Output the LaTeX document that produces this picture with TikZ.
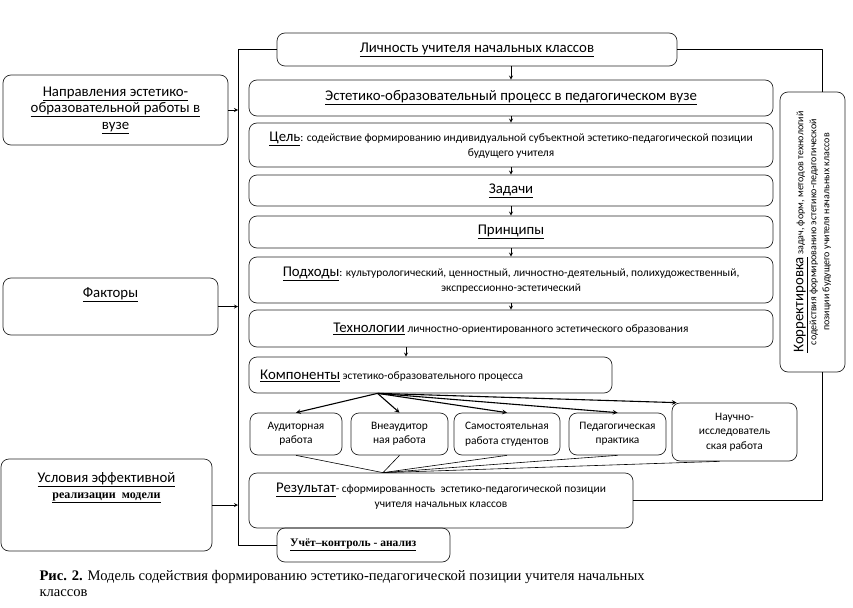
\documentclass[tikz,border=0pt]{standalone}
\usepackage{fontspec}
\setmainfont{Carlito}
\newfontfamily\capfont{Liberation Serif}
\newcommand{\hd}[1]{{\fontsize{14.8}{16}\selectfont\underline{#1}}}
\begin{document}
\begin{tikzpicture}[x=1pt,y=-1pt,line join=round,>=stealth,
  box/.style={draw=black!85,line width=0.7pt,rounded corners=8pt,align=center,inner sep=2pt},
  big/.style={font=\fontsize{14.8}{16.5}\selectfont},
  small/.style={font=\fontsize{11.4}{14.5}\selectfont}]
\useasboundingbox (0,0) rectangle (853,607);
% main column
\node[box,big,minimum width=400,minimum height=33] (lich) at (477,49.5) {\underline{Личность учителя начальных классов}};
\node[box,big,minimum width=524,minimum height=36] (proc) at (511,98) {\underline{Эстетико-образовательный процесс в педагогическом вузе}};
\node[box,small,minimum width=524,minimum height=44] (cel) at (511,145) {\hd{Цель}: содействие формированию индивидуальной субъектной эстетико-педагогической позиции\\будущего учителя};
\node[box,big,minimum width=524,minimum height=31] (zad) at (511,190.5) {\underline{Задачи}};
\node[box,big,minimum width=524,minimum height=32] (princ) at (511,232) {\underline{Принципы}};
\node[box,small,minimum width=524,minimum height=46] (podh) at (511,280) {\hd{Подходы}: культурологический, ценностный, личностно-деятельный, полихудожественный,\\экспрессионно-эстетический};
\node[box,small,minimum width=524,minimum height=37] (tech) at (511,328.5) {\hd{Технологии} личностно-ориентированного эстетического образования};
\node[box,minimum width=363,minimum height=36,
  label={[small,anchor=west,xshift=8pt,yshift=-1pt]west:{\hd{Компоненты} эстетико-образовательного процесса}}] (komp) at (430.5,375) {};
% components
\node[box,small,minimum width=92,minimum height=42] (aud) at (296,434) {Аудиторная\\работа};
\node[box,small,minimum width=97,minimum height=42] (vne) at (399.5,434) {Внеаудитор\\ная работа};
\node[box,small,minimum width=106,minimum height=42] (sam) at (507,434) {Самостоятельная\\работа студентов};
\node[box,small,minimum width=97,minimum height=42] (ped) at (617.5,434) {Педагогическая\\практика};
\node[box,small,minimum width=125,minimum height=58] (nauch) at (734.5,432) {Научно-\\исследователь\\ская работа};
\node[box,minimum width=384,minimum height=55,
  label={[small,align=center,anchor=north,yshift=-7pt]north:{\hd{Результат}- сформированность \ эстетико-педагогической позиции\\учителя начальных классов}}] (rez) at (441,500.5) {};
\node[box,minimum width=173,minimum height=34,
  label={[anchor=west,xshift=10pt,font=\capfont\bfseries\fontsize{11.5}{14}\selectfont]west:{\underline{Учёт–контроль - анализ}}}] (uchet) at (363.5,545) {};
% side boxes
\node[box,minimum width=65,minimum height=280] (korr) at (812.5,232) {};
\node[small,align=center,rotate=90,font=\fontsize{10}{13}\selectfont] (korrtext) at (korr.center) {\hd{Корректировка} задач, форм, методов технологий\\содействия формированию эстетико-педагогической\\позиции будущего учителя начальных классов};
\node[box,big,minimum width=225,minimum height=70] (napr) at (115.5,110) {\underline{Направления эстетико-}\\\underline{образовательной работы в}\\\underline{вузе}};
\node[box,minimum width=215,minimum height=57,
  label={[big,anchor=north,yshift=-6pt]north:{\underline{Факторы}}}] (fakt) at (110.5,306.5) {};
\node[box,minimum width=211,minimum height=92,
  label={[big,align=center,anchor=north,yshift=-10pt]north:{\underline{Условия эффективной}\\{\capfont\bfseries\fontsize{12}{14}\selectfont\underline{реализации \ модели}}}}] (usl) at (106.5,505) {};
% frame
\coordinate (ftop) at (238,49.5);
\draw[line width=0.7pt] (lich.west) -- (ftop) |- (uchet.west);
\draw[line width=0.7pt] (lich.east) -| ([xshift=10pt]korr.north);
\draw[line width=0.7pt] (rez.east) -| ([xshift=10pt]korr.south);
\foreach \t in {napr,fakt,usl}
  \draw[->,line width=0.8pt] (\t.east) -- (\t.east -| ftop);
% arrows
\draw[->,line width=0.8pt] (proc.north |- lich.south) -- (proc.north);
\foreach \a/\b in {proc/cel,cel/zad,zad/princ,princ/podh,podh/tech}
  \draw[->,line width=0.8pt] (\a.south) -- (\b.north);
\draw[->,line width=0.8pt] ([xshift=-105pt]tech.south) -- ([xshift=-24.5pt]komp.north);
\coordinate (kout) at ([xshift=-53pt]komp.south);
\foreach \t in {aud,vne,sam,ped}
  \draw[->,line width=1.1pt] (kout) -- (\t.north);
\draw[->,line width=1.1pt] (kout) -- ([xshift=5pt]nauch.north west);
\coordinate (rin) at ([xshift=-58pt]rez.north);
\foreach \t in {aud,vne,sam,ped}
  \draw[line width=0.6pt] (\t.south) -- (rin);
\draw[line width=0.6pt] ([xshift=-15pt]nauch.south) -- (rin);
% caption
\node[anchor=north west,align=left,font=\capfont\fontsize{14.6}{16}\selectfont] (cap) at (36,567) {\textbf{Рис. 2.} Модель содействия формированию эстетико-педагогической позиции учителя начальных\\ классов};
\end{tikzpicture}
\end{document}
